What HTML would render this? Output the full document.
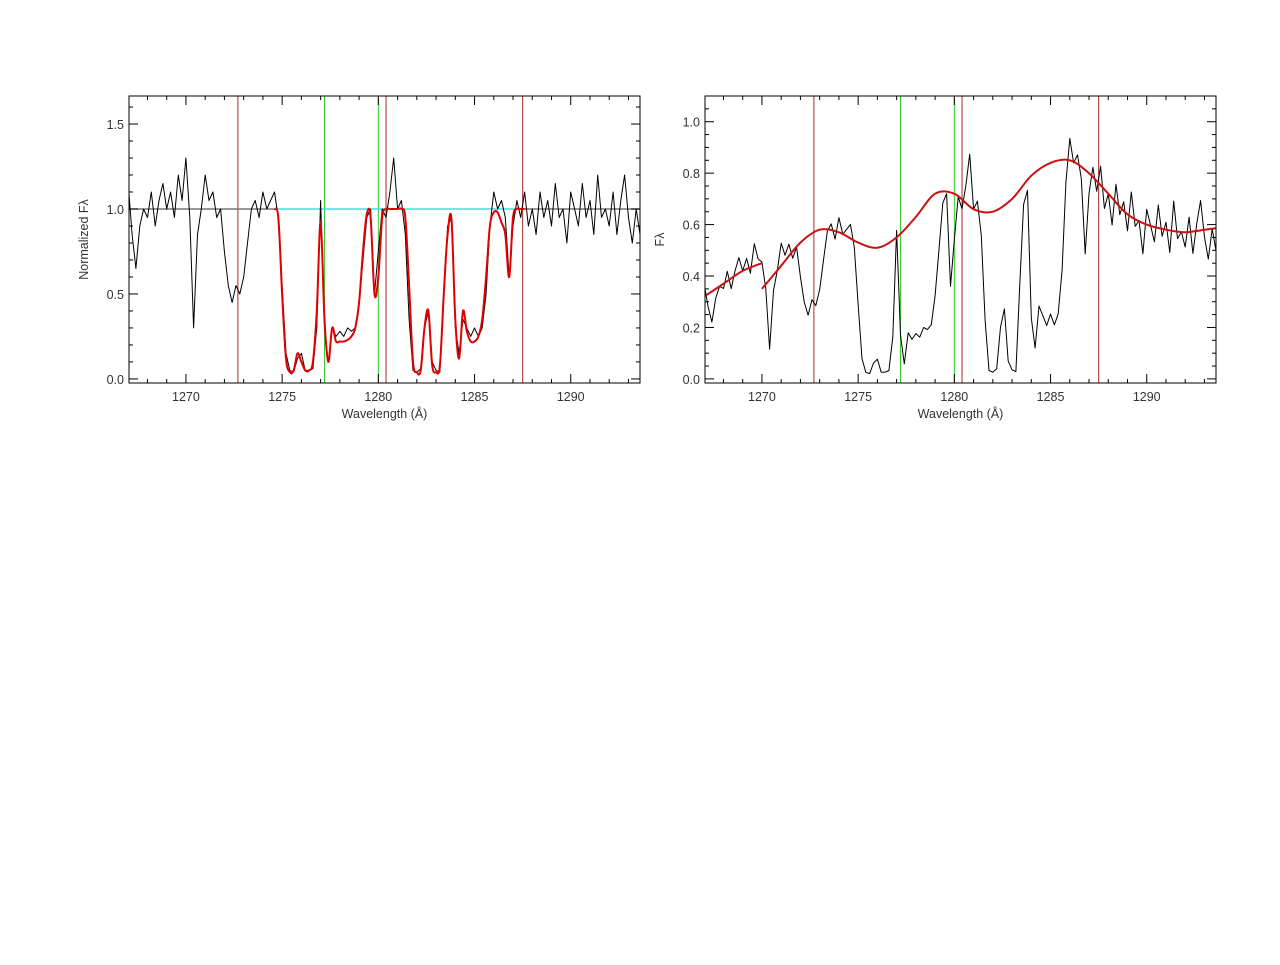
<!DOCTYPE html>
<html><head><meta charset="utf-8"><style>
body{margin:0;background:#fff;}
svg text{font-family:"Liberation Sans",sans-serif;font-size:12.5px;fill:#333;}
</style></head><body>
<svg id="fig" width="1280" height="960" xmlns="http://www.w3.org/2000/svg"></svg>
<script>
const wlStart = 1267.0, wlStep = 0.2;
const flux = [1.15,0.85,0.65,0.9,1.0, 0.95,1.1,0.9,1.05,1.15, 1.0,1.1,0.95,1.2,1.05, 1.3,0.95,0.3,0.85,1.0,
 1.2,1.05,1.1,0.95,1.0, 0.75,0.55,0.45,0.55,0.5, 0.6,0.8,1.0,1.05,0.95, 1.1,1.0,1.05,1.1,0.95,
 0.55,0.15,0.05,0.04,0.12, 0.15,0.05,0.05,0.06,0.3, 1.05,0.3,0.1,0.3,0.25, 0.28,0.25,0.3,0.28,0.3,
 0.45,0.7,0.95,1.0,0.5, 0.75,1.0,0.95,1.1,1.3, 1.0,1.05,0.85,0.35,0.05, 0.04,0.06,0.3,0.4,0.1,
 0.05,0.04,0.5,0.9,0.95, 0.3,0.15,0.35,0.3,0.25, 0.3,0.25,0.3,0.5,0.9, 1.1,1.0,1.05,0.95,0.6,
 0.9,1.05,0.95,1.1,0.9,
 1.0,0.85,1.1,0.95,1.05,0.9,1.15,0.95,1.0,0.8,1.1,1.0,0.9,1.15,0.95,1.05,0.85,1.2,0.95,1.0,0.9,1.1,0.85,1.05,1.2,0.95,0.8,1.0,0.85];
const modelStart = 1274.6;
const model = [1.0,0.95, 0.5,0.12,0.04,0.05,0.15, 0.1,0.05,0.05,0.1,0.4, 0.92,0.35,0.1,0.3,0.22,
 0.22,0.22,0.23,0.25,0.3, 0.45,0.75,0.97,0.95,0.5, 0.6,0.95,1.0,1.0,1.0, 1.0,1.0,0.95,0.55,0.1,
 0.04,0.05,0.3,0.4,0.08, 0.04,0.08,0.5,0.85,0.94, 0.35,0.12,0.4,0.28,0.22, 0.22,0.25,0.35,0.6,0.9,
 0.98,0.98,0.92,0.85,0.6, 0.95,1.0,1.0,1.0];
const cont1Start = 1267, cont1 = [0.32,0.37,0.42,0.45];
const cont2Start = 1270, cont2 = [0.35,0.44,0.53,0.58,0.57,0.53,0.51,0.55,0.63,0.72,0.72,0.66,0.65,0.7,0.79,0.84,0.85,0.8,0.72,0.64,0.6,0.58,0.57,0.58,0.59];
const redLines = [1272.7, 1280.4, 1287.5];
const greenLines = [1277.2, 1280.0];
const xTicks = [1270,1275,1280,1285,1290];
const y1Ticks = [0.0,0.5,1.0,1.5];
const y2Ticks = [0.0,0.2,0.4,0.6,0.8,1.0];

const NS="http://www.w3.org/2000/svg", svg=document.getElementById('fig');
function el(t,a,p){const e=document.createElementNS(NS,t);for(const k in a)e.setAttribute(k,a[k]);(p||svg).appendChild(e);return e;}
function interp(arr,start,step,w){const f=(w-start)/step,i=Math.floor(f);if(i<0)return arr[0];if(i>=arr.length-1)return arr[arr.length-1];return arr[i]+(arr[i+1]-arr[i])*(f-i);}

function panel(L,R,T,B,ymin,ymax,yTicks,yMinorStep,ylab,name){
  const xmin=1267.04,xmax=1293.6;
  const X=w=>L+(w-xmin)/(xmax-xmin)*(R-L), Y=v=>B-(v-ymin)/(ymax-ymin)*(B-T);
  const g=el('g',{});
  
  
  const clip=el('clipPath',{id:name+'-clip'},g);el('rect',{x:L,y:T,width:R-L,height:B-T},clip);
  const pg=el('g',{'clip-path':'url(#'+name+'-clip)'},g);
  for(let w=1267;w<=1294;w++){const x=X(w);if(x<L||x>R)continue;const len=(w%5===0)?9:4;
    el('line',{x1:x,y1:B,x2:x,y2:B-len,stroke:'#000'},g);el('line',{x1:x,y1:T,x2:x,y2:T+len,stroke:'#000'},g);}
  xTicks.forEach(w=>{const t=el('text',{x:X(w),y:B+18,'text-anchor':'middle'},g);t.textContent=w;
    });
  for(let v=ymin<0?0:ymin;v<=ymax+1e-9;v+=yMinorStep){const y=Y(v);
    const maj=yTicks.some(t=>Math.abs(t-v)<1e-6);const len=maj?9:4;
    el('line',{x1:L,y1:y,x2:L+len,y2:y,stroke:'#000'},g);el('line',{x1:R,y1:y,x2:R-len,y2:y,stroke:'#000'},g);}
  yTicks.forEach(v=>{const t=el('text',{x:L-5,y:Y(v)+5,'text-anchor':'end'},g);t.textContent=v.toFixed(1);
    });
  const xl=el('text',{x:(L+R)/2,y:B+35,'text-anchor':'middle'},g);xl.textContent='Wavelength (Å)';
  
  const yl=el('text',{x:0,y:0,'text-anchor':'middle',transform:`translate(${L-41},${(T+B)/2}) rotate(-90)`},g);yl.textContent=ylab;
  
  return {X,Y,pg,g,L,R,T,B};
}
function line(p,pts,color,w,name,smooth){
  const P=pts.map(q=>[p.X(q[0]),p.Y(q[1])]);let d='M'+P[0][0].toFixed(1)+' '+P[0][1].toFixed(1);
  for(let i=1;i<P.length;i++){
    if(smooth){const a=P[i-2]||P[i-1],b=P[i-1],c=P[i],e=P[i+1]||P[i];
      const c1=[b[0]+(c[0]-a[0])/6,b[1]+(c[1]-a[1])/6],c2=[c[0]-(e[0]-b[0])/6,c[1]-(e[1]-b[1])/6];
      d+=`C${c1[0].toFixed(1)} ${c1[1].toFixed(1)} ${c2[0].toFixed(1)} ${c2[1].toFixed(1)} ${c[0].toFixed(1)} ${c[1].toFixed(1)}`;}
    else d+='L'+P[i][0].toFixed(1)+' '+P[i][1].toFixed(1);}
  const e=el('path',{d,fill:'none',stroke:color,'stroke-width':w,'stroke-linejoin':'round'},p.pg);
  return e;}
function vlines(p){redLines.forEach(w=>{const e=el('line',{x1:p.X(w),x2:p.X(w),y1:p.T,y2:p.B,stroke:'#a52a2a'},p.pg);
    });
  greenLines.forEach(w=>{const e=el('line',{x1:p.X(w),x2:p.X(w),y1:p.T,y2:p.B,stroke:'#33cc33'},p.pg);
    });}
const fluxPts=flux.map((v,i)=>[wlStart+i*wlStep,v]);

const p1=panel(129,640,96,383,-0.024,1.665,y1Ticks,0.1,'Normalized Fλ','panel-normalized');
vlines(p1);
line(p1,[[1267,1],[modelStart+0.1,1]],'#777',1.5,'continuum-level-left');
line(p1,[[modelStart+0.1,1],[modelStart+13,1]],'#40e0e0',1.5,'continuum-level-fit');
line(p1,[[modelStart+13,1],[1294,1]],'#777',1.5,'continuum-level-right');
line(p1,fluxPts,'#000',1,'normalized-flux');
line(p1,model.map((v,i)=>[modelStart+i*wlStep,v]),'#e00000',2,'model-fit',true);
el('rect',{x:129,y:96,width:511,height:287,fill:'none',stroke:'#000'},p1.g);

const p2=panel(705,1216,96,383,-0.016,1.10,y2Ticks,0.05,'Fλ','panel-flux');
vlines(p2);
line(p2,fluxPts.map(q=>{const c=q[0]<1270?interp(cont1,cont1Start,1,q[0]):interp(cont2,cont2Start,1,q[0]);return [q[0],Math.max(0.01,q[1]*c)];}),'#000',1,'flux');
line(p2,cont1.map((v,i)=>[cont1Start+i,v]),'#cc1111',2,'continuum-fit-1',true);
line(p2,cont2.map((v,i)=>[cont2Start+i,v]),'#cc1111',2,'continuum-fit-2',true);
el('rect',{x:705,y:96,width:511,height:287,fill:'none',stroke:'#000'},p2.g);
</script>
</body></html>
